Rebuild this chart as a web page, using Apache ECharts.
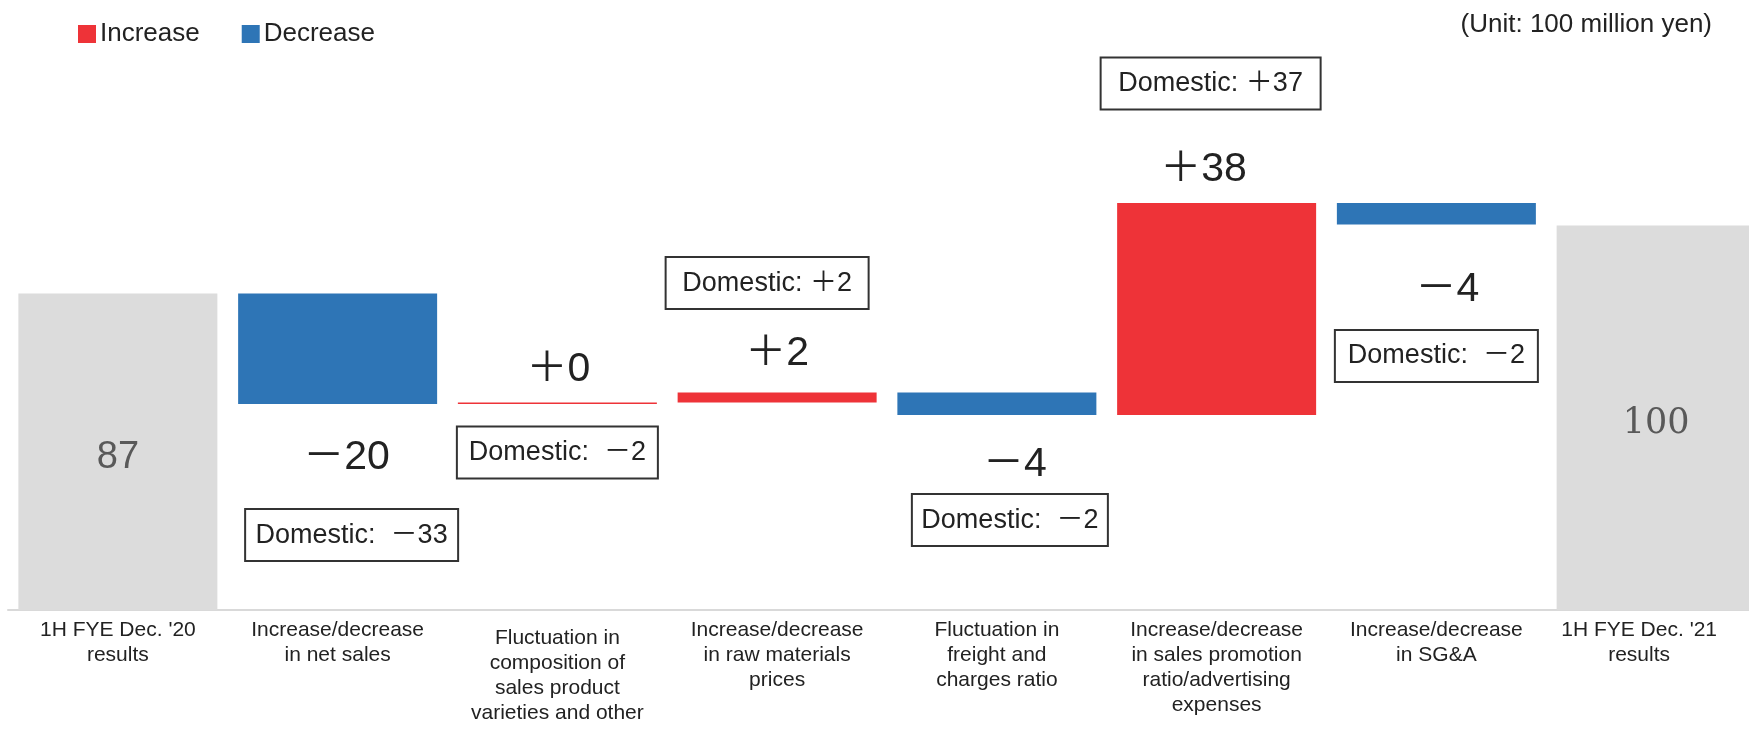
<!DOCTYPE html>
<html>
<head>
<meta charset="utf-8">
<script src="https://cdn.jsdelivr.net/npm/echarts@6/dist/echarts.min.js"></script>
<style>
html,body{margin:0;padding:0;background:#fff;overflow:hidden;width:1749px;height:731px;}
#chart{width:1766px;height:731px;}
</style>
</head>
<body>
<div id="chart"></div>
<script>
// ---------------- data ----------------
const categories = [
  "1H FYE Dec. '20\nresults",
  "Increase/decrease\nin net sales",
  "Fluctuation in\ncomposition of\nsales product\nvarieties and other",
  "Increase/decrease\nin raw materials\nprices",
  "Fluctuation in\nfreight and\ncharges ratio",
  "Increase/decrease\nin sales promotion\nratio/advertising\nexpenses",
  "Increase/decrease\nin SG&A",
  "1H FYE Dec. '21\nresults"
];
const startValue = 87;
const endValue = 100;
// bar heights as drawn in the picture
const deltas = [-21.1, 0.3, 1.9, -4.3, 40.5, -4.1];
const deltaLabels = ['－20', '＋0', '＋2', '－4', '＋38', '－4'];
const domesticLabels = ['Domestic:  －33', 'Domestic:  －2', 'Domestic: ＋2', 'Domestic:  －2', 'Domestic: ＋37', 'Domestic:  －2'];

// ---------------- styles ----------------
const RED = '#EE3338', BLUE = '#2E75B6', GRAY = '#DCDCDC';
const SANS = "'Liberation Sans', Arial, 'Noto Sans CJK JP', sans-serif";
const valueLabelPos = [
  {edge:'bottom', dx: 9,  dy: 54},
  {edge:'top',    dx: 1,  dy: -33},
  {edge:'top',    dx: 0,  dy: -39},
  {edge:'bottom', dx: 18, dy: 50},
  {edge:'top',    dx: -13,dy: -33},
  {edge:'bottom', dx: 11, dy: 65}
];
const boxPos = [
  {edge:'bottom', dx: 14, dy: 131,   w: 213},
  {edge:'bottom', dx: 0,  dy: 48.5,  w: 201},
  {edge:'top',    dx: -10,dy: -109.5,w: 203},
  {edge:'bottom', dx: 13, dy: 105,   w: 196},
  {edge:'top',    dx: -6, dy: -119.5,w: 220},
  {edge:'bottom', dx: 0,  dy: 131.5, w: 203}
];
const categoryLabelPadding = [[0,0,0,0],[0,0,0,0],[8,0,0,0],[0,0,0,0],[0,0,0,0],[0,0,0,0],[0,0,0,0],[0,34,0,0]];
const BOX_H = 52;

// ---------------- build series data ----------------
const baseData = ['-'], incData = ['-'], decData = ['-'], totalData = [startValue];
const annData = [];
let level = startValue;
deltas.forEach((d, i) => {
  const next = level + d;
  const lo = Math.min(level, next), hi = Math.max(level, next);
  baseData.push(lo);
  if (d >= 0) { incData.push(hi - lo); decData.push('-'); }
  else { decData.push(hi - lo); incData.push('-'); }
  totalData.push('-');
  annData.push([i + 1, hi, lo, i]);
  level = next;
});
baseData.push('-'); incData.push('-'); decData.push('-'); totalData.push(endValue);

const axisData = categories.map((c, i) => ({value: c, textStyle: {padding: categoryLabelPadding[i]}}));

const chart = echarts.init(document.getElementById('chart'));
chart.setOption({
  animation: false,
  backgroundColor: '#fff',
  legend: {
    data: ['Increase', 'Decrease'],
    left: 73, top: 16,
    itemWidth: 18, itemHeight: 18, itemGap: 42,
    icon: 'rect',
    textStyle: {fontSize: 26, color: '#222', fontFamily: SANS, padding: [0,0,0,-1]}
  },
  graphic: [{
    type: 'text', right: 54, top: 12,
    style: {text: '(Unit: 100 million yen)', fontSize: 26, fontFamily: SANS, fill: '#222'}
  }],
  grid: {left: 8, right: 0, top: 40, bottom: 121, containLabel: false},
  xAxis: {
    type: 'category', data: axisData,
    axisTick: {show: false},
    axisLine: {lineStyle: {color: '#D9D9D9', width: 2}},
    axisLabel: {interval: 0, margin: 8, fontSize: 21, lineHeight: 25, color: '#222', fontFamily: SANS}
  },
  yAxis: {type: 'value', min: 26.6, max: 135.4, show: false, splitLine: {show: false}},
  series: [
    {name: 'base', type: 'bar', stack: 'w', data: baseData, barWidth: 199,
     itemStyle: {color: 'transparent'}, silent: true, emphasis: {disabled: true}},
    {name: 'Total', type: 'bar', stack: 'w', data: totalData, barWidth: 199,
     itemStyle: {color: GRAY},
     label: {show: true, position: 'inside', offset: [0, 6], fontSize: 38, color: '#595959',
       formatter: p => p.dataIndex === 0 ? '{s|' + p.value + '}' : '{r|' + p.value + '}',
       rich: {s: {fontSize: 38, fontFamily: SANS, color: '#595959'},
              r: {fontSize: 35, fontFamily: "'DejaVu Serif', serif", color: '#595959'}}}},
    {name: 'Increase', type: 'bar', stack: 'w', data: incData, barWidth: 199, itemStyle: {color: RED}},
    {name: 'Decrease', type: 'bar', stack: 'w', data: decData, barWidth: 199, itemStyle: {color: BLUE}},
    {name: 'notes', type: 'custom', data: annData, clip: false, silent: true, z: 10,
     renderItem: function (params, api) {
       const cat = api.value(0), hi = api.value(1), lo = api.value(2), k = api.value(3);
       const pTop = api.coord([cat, hi]), pBot = api.coord([cat, lo]);
       const vp = valueLabelPos[k], bp = boxPos[k];
       const vy = (vp.edge === 'top' ? pTop[1] : pBot[1]) + vp.dy;
       const by = (bp.edge === 'top' ? pTop[1] : pBot[1]) + bp.dy;
       const bx = pTop[0] + bp.dx;
       return {type: 'group', children: [
         {type: 'text', x: pTop[0] + vp.dx, y: vy,
          style: {text: deltaLabels[k], fontSize: 41, fontFamily: SANS, fill: '#222', align: 'center', verticalAlign: 'middle'}},
         {type: 'rect', shape: {x: bx - bp.w / 2, y: by - BOX_H / 2, width: bp.w, height: BOX_H},
          style: {fill: '#fff', stroke: '#333', lineWidth: 2}},
         {type: 'text', x: bx, y: by,
          style: {text: domesticLabels[k], fontSize: 27, fontFamily: SANS, fill: '#222', align: 'center', verticalAlign: 'middle'}}
       ]};
     }}
  ]
});
</script>
</body>
</html>
